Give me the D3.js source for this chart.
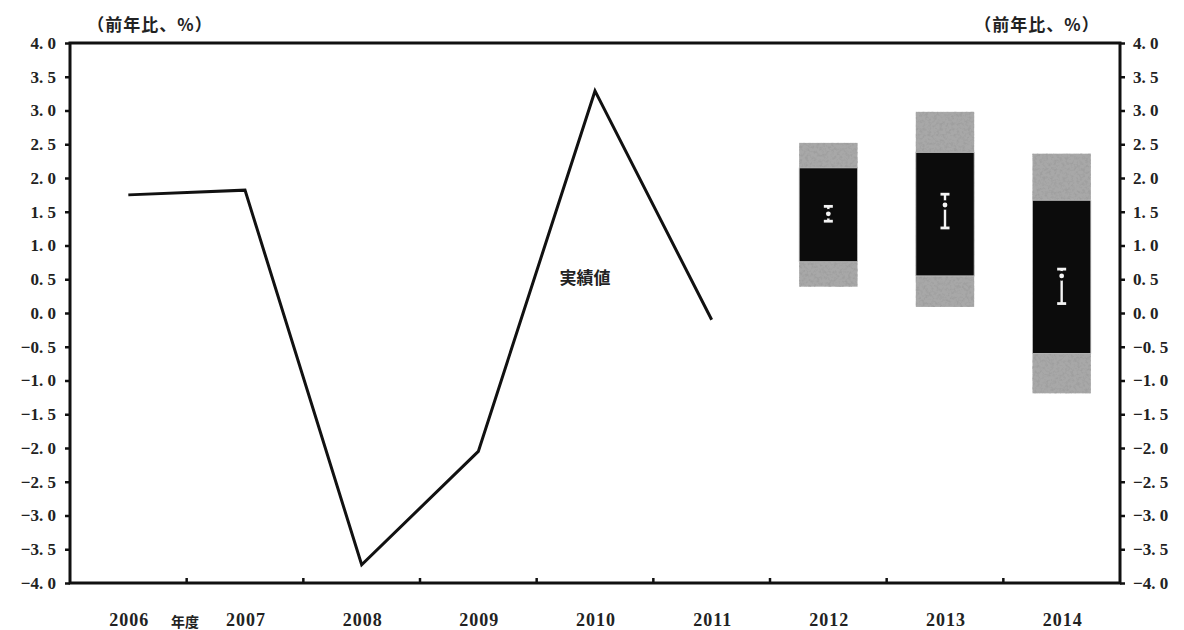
<!DOCTYPE html>
<html>
<head>
<meta charset="utf-8">
<script src="https://cdn.jsdelivr.net/npm/d3@7"></script>
<style>
  html, body { margin: 0; padding: 0; background: #fff; }
  svg { display: block; }
</style>
</head>
<body>
<svg id="chart" width="1184" height="630"></svg>
<script>
// Fiscal years on the horizontal axis
const years = ["2006", "2007", "2008", "2009", "2010", "2011", "2012", "2013", "2014"];

// Actual results (year-on-year, %)
const actualYears = ["2006", "2007", "2008", "2009", "2010", "2011"];
const actualValues = [1.75, 1.82, -3.73, -2.05, 3.29, -0.1];

// Forecast distribution for the projection years
const fcYears = ["2012", "2013", "2014"];
const outerHigh = [2.52, 2.98, 2.36];
const innerHigh = [2.15, 2.38, 1.67];
const innerLow = [0.76, 0.55, -0.6];
const outerLow = [0.39, 0.09, -1.19];

// Range of members' forecasts and their median
const rangeHigh = [1.58, 1.76, 0.65];
const median = [1.47, 1.6, 0.55];
const rangeLow = [1.36, 1.26, 0.14];

// Vertical axis ticks
const yTicks = [4, 3.5, 3, 2.5, 2, 1.5, 1, 0.5, 0, -0.5, -1, -1.5, -2, -2.5, -3, -3.5, -4];

const unitLabel = "（前年比、%）";
const yearLabel = "年度";
const actualLabel = "実績値";

const svg = d3.select("#chart");
const plotLeft = 70, plotRight = 1120, plotTop = 43, plotBottom = 583;

const x = d3.scaleBand().domain(years).range([plotLeft, plotRight]).padding(0);
const y = d3.scaleLinear().domain([-4, 4]).range([plotBottom, plotTop]);

const numFont = "'Liberation Serif', 'DejaVu Serif', serif";
const cjkFont = "'Noto Sans CJK JP', sans-serif";

// Mottled texture for the shaded outer bands
const defs = svg.append("defs");
const grain = defs.append("filter").attr("id", "grain")
  .attr("filterUnits", "userSpaceOnUse")
  .attr("x", 0).attr("y", 0).attr("width", 1184).attr("height", 630);
grain.append("feTurbulence").attr("type", "fractalNoise")
  .attr("baseFrequency", 0.35).attr("numOctaves", 3).attr("seed", 7).attr("result", "noise");
grain.append("feColorMatrix").attr("in", "noise").attr("type", "matrix")
  .attr("values", "0 0 0 0 0.35  0 0 0 0 0.35  0 0 0 0 0.35  3.2 0 0 0 -1.35")
  .attr("result", "spots");
grain.append("feComposite").attr("in", "spots").attr("in2", "SourceGraphic").attr("operator", "in")
  .attr("result", "clipped");
grain.append("feMerge").call(m => {
  m.append("feMergeNode").attr("in", "SourceGraphic");
  m.append("feMergeNode").attr("in", "clipped");
});

const fc = fcYears.map((yr, i) => ({
  yr, oh: outerHigh[i], ih: innerHigh[i], il: innerLow[i], ol: outerLow[i],
  rh: rangeHigh[i], md: median[i], rl: rangeLow[i]
}));

const barW = x.bandwidth() * 0.5;
const bx = d => x(d.yr) + (x.bandwidth() - barW) / 2;
const cx = d => x(d.yr) + x.bandwidth() / 2;

const bars = svg.append("g");
// outer (light) range
bars.selectAll("rect.outer").data(fc).join("rect").attr("class", "outer")
  .attr("x", bx).attr("width", barW)
  .attr("y", d => y(d.oh)).attr("height", d => y(d.ol) - y(d.oh))
  .attr("fill", "#a8a8a8").attr("filter", "url(#grain)");
// inner (dark) range
bars.selectAll("rect.inner").data(fc).join("rect").attr("class", "inner")
  .attr("x", bx).attr("width", barW)
  .attr("y", d => y(d.ih)).attr("height", d => y(d.il) - y(d.ih))
  .attr("fill", "#0c0c0c").attr("stroke", "#c8c8c8").attr("stroke-width", 0.8);

// range of forecasts with median
const capW = 9;
bars.selectAll("line.range").data(fc).join("line").attr("class", "range")
  .attr("x1", cx).attr("x2", cx).attr("y1", d => y(d.rh)).attr("y2", d => y(d.rl))
  .attr("stroke", "#f4f4f4").attr("stroke-width", 2.4);
bars.selectAll("line.capH").data(fc).join("line").attr("class", "capH")
  .attr("x1", d => cx(d) - capW / 2).attr("x2", d => cx(d) + capW / 2)
  .attr("y1", d => y(d.rh)).attr("y2", d => y(d.rh))
  .attr("stroke", "#f4f4f4").attr("stroke-width", 2.8);
bars.selectAll("line.capL").data(fc).join("line").attr("class", "capL")
  .attr("x1", d => cx(d) - capW / 2).attr("x2", d => cx(d) + capW / 2)
  .attr("y1", d => y(d.rl)).attr("y2", d => y(d.rl))
  .attr("stroke", "#f4f4f4").attr("stroke-width", 2.8);
bars.selectAll("circle.gap").data(fc).join("circle").attr("class", "gap")
  .attr("cx", cx).attr("cy", d => y(d.md)).attr("r", 4.8).attr("fill", "#0c0c0c");
bars.selectAll("circle.med").data(fc).join("circle").attr("class", "med")
  .attr("cx", cx).attr("cy", d => y(d.md)).attr("r", 2.4).attr("fill", "#f4f4f4");

// Actual results line
const line = d3.line()
  .x((d, i) => x(actualYears[i]) + x.bandwidth() / 2)
  .y(d => y(d));
svg.append("path").datum(actualValues)
  .attr("d", line).attr("fill", "none")
  .attr("stroke", "#111").attr("stroke-width", 3).attr("stroke-linejoin", "miter");

svg.append("text").attr("x", 585).attr("y", 284)
  .attr("text-anchor", "middle").attr("font-family", cjkFont)
  .attr("font-weight", 700).attr("font-size", 17).attr("fill", "#222")
  .text(actualLabel);

// Axes
const fmt = d => d3.format(".1f")(d).replace(".", ". ");
const axisStyle = g => {
  g.select(".domain").remove();
  g.selectAll(".tick line").attr("stroke", "#111").attr("stroke-width", 2.5);
  g.selectAll(".tick text").attr("font-family", numFont).attr("font-weight", 700)
    .attr("font-size", 17).attr("fill", "#222");
};

svg.append("g").attr("transform", `translate(${plotLeft},0)`)
  .call(d3.axisLeft(y).tickValues(yTicks).tickFormat(fmt).tickSize(5).tickPadding(9))
  .call(axisStyle);
svg.append("g").attr("transform", `translate(${plotRight},0)`)
  .call(d3.axisRight(y).tickValues(yTicks).tickFormat(fmt).tickSize(5).tickPadding(8))
  .call(axisStyle);

// Bottom axis: ticks between the fiscal years, pointing inward
const bounds = years.slice(1).map(v => x(v));
svg.append("g").selectAll("line").data(bounds).join("line")
  .attr("x1", d => d).attr("x2", d => d).attr("y1", plotBottom).attr("y2", plotBottom - 5)
  .attr("stroke", "#111").attr("stroke-width", 2.5);
svg.append("g").selectAll("text").data(years).join("text")
  .attr("x", d => x(d) + x.bandwidth() / 2 + 1).attr("y", 626)
  .attr("text-anchor", "middle").attr("font-family", numFont).attr("font-weight", 700)
  .attr("font-size", 18).attr("letter-spacing", 1).attr("fill", "#222")
  .text(d => d);
svg.append("text").attr("x", 185).attr("y", 627)
  .attr("text-anchor", "middle").attr("font-family", cjkFont).attr("font-weight", 700)
  .attr("font-size", 14).attr("fill", "#222").text(yearLabel);

// Frame
svg.append("rect").attr("x", plotLeft).attr("y", plotTop)
  .attr("width", plotRight - plotLeft).attr("height", plotBottom - plotTop)
  .attr("fill", "none").attr("stroke", "#111").attr("stroke-width", 3);

// Unit labels
svg.append("text").attr("x", 150).attr("y", 31).attr("text-anchor", "middle")
  .attr("font-family", cjkFont).attr("font-weight", 700).attr("font-size", 17)
  .attr("letter-spacing", 1).attr("fill", "#222").text(unitLabel);
svg.append("text").attr("x", 1037).attr("y", 31).attr("text-anchor", "middle")
  .attr("font-family", cjkFont).attr("font-weight", 700).attr("font-size", 17)
  .attr("letter-spacing", 1).attr("fill", "#222").text(unitLabel);
</script>
</body>
</html>
